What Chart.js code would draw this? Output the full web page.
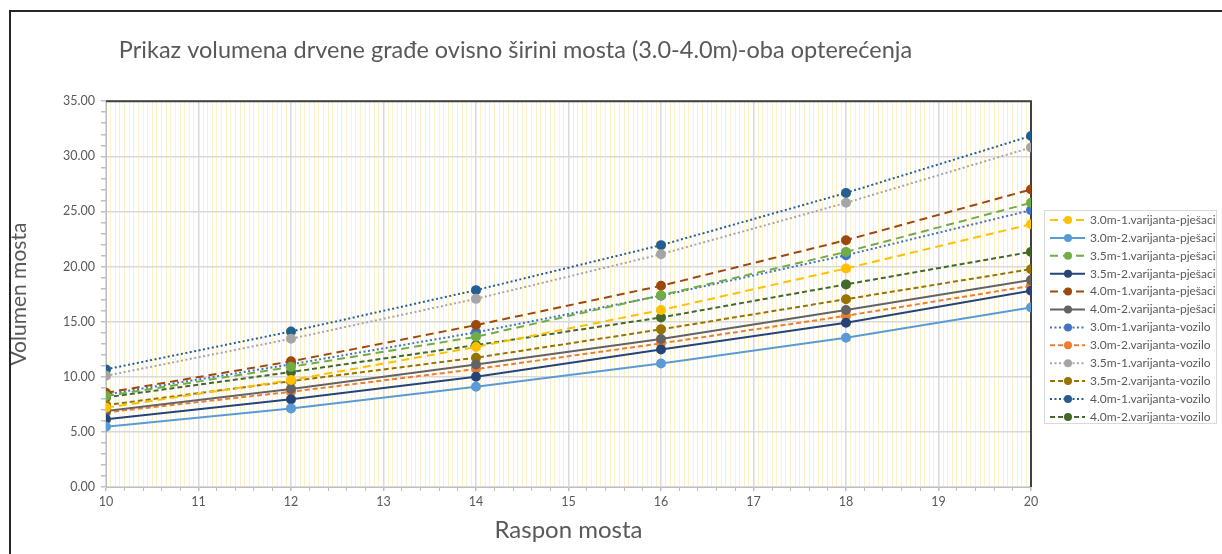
<!DOCTYPE html>
<html>
<head>
<meta charset="utf-8">
<title>Volumen mosta</title>
<script src="https://cdn.jsdelivr.net/npm/chart.js@4.4.1/dist/chart.umd.min.js"></script>
<style>
  html, body { margin: 0; padding: 0; background: #fff; overflow: hidden; }
  #wrap { position: relative; width: 1222px; height: 554px; }
  #frame {
    position: absolute; left: 9px; top: 10px; width: 1300px; height: 600px;
    border-left: 2px solid #262626; border-top: 2px solid #262626;
    box-sizing: border-box; pointer-events: none;
  }
</style>
</head>
<body>
<div id="wrap">
  <canvas id="chart" width="1222" height="554"></canvas>
  <div id="frame"></div>
</div>
<script>
// raspon mosta (m)
const spans = [10, 12, 14, 16, 18, 20]

const seriesNames = [
  '3.0m-1.varijanta-pješaci',
  '3.0m-2.varijanta-pješaci',
  '3.5m-1.varijanta-pješaci',
  '3.5m-2.varijanta-pješaci',
  '4.0m-1.varijanta-pješaci',
  '4.0m-2.varijanta-pješaci',
  '3.0m-1.varijanta-vozilo',
  '3.0m-2.varijanta-vozilo',
  '3.5m-1.varijanta-vozilo',
  '3.5m-2.varijanta-vozilo',
  '4.0m-1.varijanta-vozilo',
  '4.0m-2.varijanta-vozilo'
]

// volumen (m3) po rasponu
const v30p1 = [7.19, 9.70, 12.70, 16.05, 19.83, 23.84]
const v30p2 = [5.47, 7.13, 9.09, 11.21, 13.54, 16.29]
const v35p1 = [8.25, 10.90, 13.63, 17.40, 21.33, 25.78]
const v35p2 = [6.14, 7.95, 10.00, 12.48, 14.90, 17.80]
const v40p1 = [8.55, 11.40, 14.69, 18.25, 22.39, 26.99]
const v40p2 = [6.90, 8.90, 11.12, 13.42, 16.05, 18.77]
const v30v1 = [8.40, 11.13, 14.03, 17.35, 21.03, 25.11]
const v30v2 = [6.77, 8.64, 10.70, 13.03, 15.53, 18.25]
const v35v1 = [10.09, 13.45, 17.07, 21.12, 25.78, 30.80]
const v35v2 = [7.43, 9.60, 11.73, 14.30, 17.04, 19.76]
const v40v1 = [10.67, 14.11, 17.86, 21.94, 26.68, 31.85]
const v40v2 = [8.13, 10.43, 12.87, 15.38, 18.38, 21.33]

const allValues = [v30p1, v30p2, v35p1, v35p2, v40p1, v40p2, v30v1, v30v2, v35v1, v35v2, v40v1, v40v2]

const colors = ['#FFC000', '#5B9BD5', '#70AD47', '#264478', '#9E480E', '#636363',
                '#4472C4', '#ED7D31', '#A5A5A5', '#997300', '#255E91', '#43682B']

// 1. varijanta pješaci = duga crta, 2. pješaci = puna, 1. vozilo = točkice, 2. vozilo = kratka crta
const dashes = [[8, 5], [], [8, 5], [], [8, 5], [],
                [2, 2.5], [5, 3], [2, 2.5], [5, 3], [2, 2.5], [5, 3]]

const FONT = 'Lato, "Open Sans", sans-serif'
const GREY_TEXT = '#595959'

const near = (v, step) => Math.abs(v / step - Math.round(v / step)) < 1e-6

const datasets = allValues.map((vals, i) => ({
  label: seriesNames[i],
  data: spans.map((x, j) => ({x: x, y: vals[j]})),
  borderColor: colors[i],
  backgroundColor: colors[i],
  pointBackgroundColor: colors[i],
  pointBorderColor: colors[i],
  borderWidth: 2,
  borderDash: dashes[i],
  pointRadius: 4,
  pointHoverRadius: 4,
  tension: 0,
  fill: false
}))

// gornji i desni rub područja crtanja
const plotBorder = {
  id: 'plotBorder',
  beforeDatasetsDraw(chart) {
    const {ctx, chartArea: a} = chart
    ctx.save()
    ctx.strokeStyle = '#404040'
    ctx.lineWidth = 2
    ctx.beginPath()
    ctx.moveTo(a.left, a.top)
    ctx.lineTo(a.right, a.top)
    ctx.lineTo(a.right, a.bottom)
    ctx.stroke()
    ctx.restore()
  }
}

// legenda s crtom i markerom
const legendBox = {
  id: 'legendBox',
  afterDraw(chart) {
    const ctx = chart.ctx
    const left = chart.chartArea.right + 13
    const top = 210, w = 172, h = 213, row = 17.9
    ctx.save()
    ctx.strokeStyle = '#D9D9D9'
    ctx.lineWidth = 1
    ctx.strokeRect(left + 0.5, top + 0.5, w, h)
    chart.data.datasets.forEach((ds, i) => {
      const y = top + 10 + i * row
      ctx.strokeStyle = ds.borderColor
      ctx.lineWidth = ds.borderWidth
      ctx.setLineDash(ds.borderDash)
      ctx.beginPath()
      ctx.moveTo(left + 6, y)
      ctx.lineTo(left + 41, y)
      ctx.stroke()
      ctx.setLineDash([])
      ctx.fillStyle = ds.pointBackgroundColor
      ctx.beginPath()
      ctx.arc(left + 24, y, 4, 0, Math.PI * 2)
      ctx.fill()
      ctx.fillStyle = GREY_TEXT
      ctx.font = '12px ' + FONT
      ctx.textBaseline = 'middle'
      ctx.fillText(ds.label, left + 46, y)
    })
    ctx.restore()
  }
}

const ctx = document.getElementById('chart')

const chart = new Chart(ctx, {
  type: 'line',
  data: {datasets: datasets},
  plugins: [plotBorder, legendBox],
  options: {
    responsive: false,
    animation: false,
    devicePixelRatio: 1,
    layout: {padding: {left: 0, right: 191, top: 0, bottom: 0}},
    plugins: {
      legend: {display: false},
      tooltip: {enabled: false},
      title: {
        display: true,
        text: 'Prikaz volumena drvene građe ovisno širini mosta (3.0-4.0m)-oba opterećenja',
        color: GREY_TEXT,
        font: {family: FONT, size: 23.5, weight: 'normal'},
        padding: {top: 36, bottom: 37}
      }
    },
    scales: {
      x: {
        type: 'linear',
        min: 10,
        max: 20,
        afterFit: s => { s.height = 67 },
        ticks: {
          stepSize: 0.05,
          autoSkip: false,
          maxRotation: 0,
          padding: 3,
          color: GREY_TEXT,
          font: {family: FONT, size: 12.5},
          callback: v => near(v, 1) ? String(Math.round(v)) : ''
        },
        grid: {
          color: c => near(c.tick.value, 1) ? '#D9D9D9' : '#FCF0C8',
          lineWidth: c => near(c.tick.value, 1) ? 1.5 : 1,
          tickColor: c => near(c.tick.value, 0.2) ? '#BFBFBF' : 'rgba(0,0,0,0)',
          tickLength: 4
        },
        border: {color: '#BFBFBF', width: 1},
        title: {
          display: true,
          text: 'Raspon mosta',
          color: GREY_TEXT,
          font: {family: FONT, size: 24},
          padding: {top: 0, bottom: 9}
        }
      },
      y: {
        min: 0,
        max: 35,
        afterFit: s => { s.width = 106 },
        ticks: {
          stepSize: 1,
          autoSkip: false,
          padding: 6,
          color: GREY_TEXT,
          font: {family: FONT, size: 12.5},
          callback: v => near(v, 5) ? v.toFixed(2) : ''
        },
        grid: {
          color: c => near(c.tick.value, 5) ? '#D9D9D9' : 'rgba(0,0,0,0)',
          lineWidth: 1.5,
          tickColor: '#BFBFBF',
          tickLength: 5
        },
        border: {color: '#BFBFBF', width: 1},
        title: {
          display: true,
          text: 'Volumen mosta',
          color: GREY_TEXT,
          font: {family: FONT, size: 21},
          padding: {top: 7, bottom: 0}
        }
      }
    }
  }
})
</script>
</body>
</html>
